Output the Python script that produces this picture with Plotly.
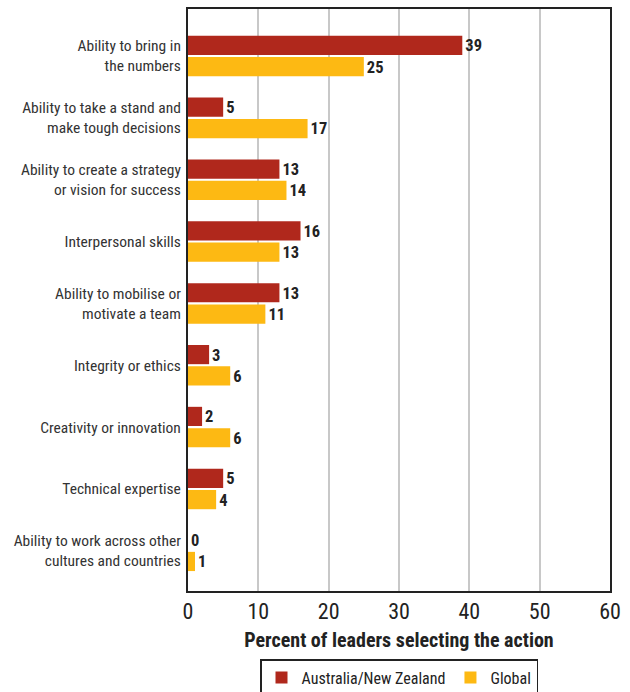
import plotly.graph_objects as go

categories = [
    "Ability to bring in<br>the numbers",
    "Ability to take a stand and<br>make tough decisions",
    "Ability to create a strategy<br>or vision for success",
    "Interpersonal skills",
    "Ability to mobilise or<br>motivate a team",
    "Integrity or ethics",
    "Creativity or innovation",
    "Technical expertise",
    "Ability to work across other<br>cultures and countries",
]
anz = [39, 5, 13, 16, 13, 3, 2, 5, 0]
global_vals = [25, 17, 14, 13, 11, 6, 6, 4, 1]

FONT = "Roboto Condensed, Liberation Sans Narrow, DejaVu Sans Condensed, sans-serif"
RED = "#B0281C"
YEL = "#FDB913"

fig = go.Figure()
fig.add_trace(go.Bar(
    y=categories, x=anz, orientation="h", name="Australia/New Zealand",
    marker=dict(color=RED, line=dict(width=0)),
    text=anz, texttemplate="<b>%{x}</b>", textposition="outside", cliponaxis=False,
    textfont=dict(family=FONT, size=18, color="#222"),
))
fig.add_trace(go.Bar(
    y=categories, x=global_vals, orientation="h", name="Global",
    marker=dict(color=YEL, line=dict(width=0)),
    text=global_vals, texttemplate="<b>%{x}</b>", textposition="outside", cliponaxis=False,
    textfont=dict(family=FONT, size=18, color="#222"),
))

fig.update_layout(
    width=630, height=692,
    margin=dict(l=188, r=20, t=9, b=101, autoexpand=False),
    paper_bgcolor="white", plot_bgcolor="white",
    barmode="group", bargap=0.31, bargroupgap=0.1,
    font=dict(family=FONT, color="#333"),
    xaxis=dict(
        range=[0, 60], tickvals=[0, 10, 20, 30, 40, 50, 60],
        showgrid=True, gridcolor="#c8c8c8", gridwidth=1.5,
        showline=True, mirror=True, linecolor="#222", linewidth=2,
        tickfont=dict(family=FONT, size=22, color="#222"),
        ticks="", zeroline=False, automargin=False,
        title=dict(text="<b>Percent of leaders selecting the action</b>",
                   font=dict(family=FONT, size=20, color="#222"), standoff=10),
    ),
    yaxis=dict(
        type="category", range=[8.65, -0.76], automargin=False,
        showline=True, mirror=True, linecolor="#222", linewidth=2,
        tickfont=dict(family=FONT, size=15.5, color="#333"),
        ticks="", ticklabelstandoff=2,
    ),
    legend=dict(
        orientation="h", x=0.5, xanchor="center",
        yref="container", y=(692 - 659) / 692, yanchor="top",
        bordercolor="#222", borderwidth=1.5,
        font=dict(family=FONT, size=16, color="#222"),
        traceorder="normal",
    ),
)

fig.write_html("out.html")
